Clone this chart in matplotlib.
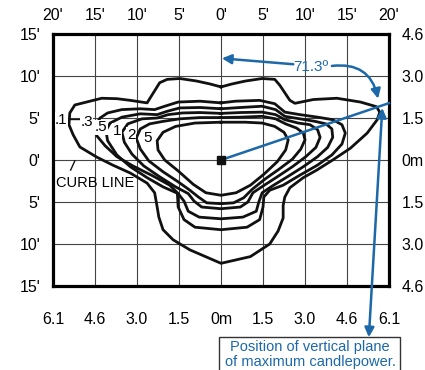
import numpy as np
import matplotlib.pyplot as plt
from matplotlib.patches import Rectangle

plt.rcParams['font.family'] = ['Liberation Sans', 'DejaVu Sans']

# axis ticks (feet) and the labels shown
ft_x_ticks = [-20, -15, -10, -5, 0, 5, 10, 15, 20]
ft_y_ticks = [-15, -10, -5, 0, 5, 10, 15]
top_labels = ["20'", "15'", "10'", "5'", "0'", "5'", "10'", "15'", "20'"]
left_labels = ["15'", "10'", "5'", "0'", "5'", "10'", "15'"]
bottom_labels = ['6.1', '4.6', '3.0', '1.5', '0m', '1.5', '3.0', '4.6', '6.1']
right_labels = ['4.6', '3.0', '1.5', '0m', '1.5', '3.0', '4.6']

# isofootcandle lines (feet)
c01_x = [0, -1.3, -2.9, -4.9, -6.4, -7.3, -8.8, -10.8, -12.4, -14.2, -16.0, -17.4, -18.0, -18.1,
         -17.6, -16.8, -14.8, -12.9, -10.8, -8.8, -7.9, -7.6, -7.4, -6.9, -5.7, -3.7, 0, 3.5,
         5.8, 6.8, 7.4, 7.4, 7.6, 8.2, 9.8, 11.4, 13.3, 15.4, 17.4, 18.6, 18.9, 18.5, 16.6,
         13.8, 11.0, 8.8, 8.2, 7.0, 6.4, 4.9, 2.9, 1.3]
c01_y = [8.7, 9.05, 9.4, 9.7, 9.6, 9.2, 6.8, 7.1, 7.3, 7.35, 6.9, 6.55, 5.6, 4.2,
         3.0, 1.55, 0.35, -0.6, -1.55, -2.75, -3.9, -5.6, -6.8, -8.3, -9.5, -10.7, -12.3, -11.5,
         -10.0, -8.45, -6.9, -5.4, -4.4, -3.3, -2.1, -1.2, 0, 1.4, 3.2, 4.8, 5.7, 6.35, 6.9,
         7.35, 7.2, 6.75, 7.1, 8.9, 9.6, 9.7, 9.4, 9.05]

c03_x = [0, 1.7, 4.6, 6.4, 7.6, 9.4, 11.5, 13.3, 14.4, 14.8, 14.4, 13.2, 11.5, 9.4, 7.4, 5.8,
         5.1, 5.0, 4.6, 3.1, 0, -3.1, -4.4, -5.1, -5.2, -6.1, -8.1, -10.5, -12.4, -13.8, -14.8,
         -14.9, -14.4, -13.5, -11.8, -9.6, -7.9, -6.7, -5.1, -2.5]
c03_y = [6.8, 7.0, 7.1, 6.7, 5.7, 5.4, 5.1, 4.8, 4.2, 3.2, 1.9, 0.6, -0.6, -1.8, -3.0, -3.6,
         -4.4, -5.6, -7.1, -8.0, -8.3, -8.0, -7.1, -5.6, -3.9, -3.0, -1.9, -0.7, 0.4, 1.7, 2.9,
         4.2, 5.0, 5.6, 6.0, 6.1, 6.0, 6.4, 6.9, 7.0]

c05_x = [0, 2.3, 4.9, 6.5, 7.6, 9.4, 11.2, 12.5, 13.2, 13.3, 12.7, 11.5, 9.8, 7.9, 6.1, 4.9,
         4.5, 4.2, 2.6, 0, -2.6, -3.9, -4.4, -5.1, -6.9, -8.8, -10.8, -12.4, -13.5, -13.7,
         -13.2, -11.8, -9.6, -7.6, -6.4, -4.9, -2.5]
c05_y = [6.1, 6.25, 6.4, 6.0, 5.2, 4.9, 4.6, 4.3, 3.7, 2.7, 1.5, 0.4, -0.8, -2.0, -3.1, -3.9,
         -5.0, -6.1, -6.8, -7.0, -6.8, -6.1, -4.9, -4.0, -3.2, -2.1, -0.8, 0.6, 2.3, 3.5,
         4.4, 5.1, 5.5, 5.4, 5.8, 6.2, 6.25]

c1_x = [0, 2.3, 4.9, 6.5, 7.6, 9.2, 10.6, 11.5, 11.8, 11.3, 10.1, 8.5, 6.7, 5.0, 3.8, 3.2,
        2.3, 0, -2.3, -3.2, -3.9, -5.4, -7.3, -9.2, -10.6, -11.5, -11.8, -11.1, -9.4, -7.6,
        -6.3, -4.6, -2.5]
c1_y = [5.55, 5.65, 5.7, 5.4, 4.8, 4.4, 4.2, 3.6, 2.7, 1.5, 0.4, -0.8, -2.0, -3.1, -3.9, -5.0,
        -5.6, -5.8, -5.6, -4.9, -4.0, -3.2, -2.0, -0.7, 0.7, 2.1, 3.3, 4.3, 4.9, 5.0,
        5.4, 5.6, 5.65]

c2_x = [0, 2.3, 4.9, 6.5, 7.7, 9.0, 9.8, 10.0, 9.5, 8.5, 6.9, 5.2, 3.7, 2.7, 1.5, 0, -1.7,
        -2.7, -3.7, -5.1, -6.9, -8.6, -9.6, -10.1, -9.6, -8.5, -6.9, -4.9, -2.5]
c2_y = [5.05, 5.1, 5.2, 4.9, 4.3, 3.8, 3.2, 2.4, 1.3, 0.1, -1.1, -2.3, -3.5, -4.5, -5.1, -5.2, -5.1,
        -4.4, -3.6, -2.6, -1.4, -0.1, 1.3, 2.6, 3.7, 4.3, 4.6, 4.9, 5.05]

c5_x = [0, 2.9, 4.9, 6.4, 7.5, 8.0, 7.7, 6.7, 5.1, 3.5, 1.8, 0, -1.8, -3.3, -5.1, -6.7, -7.5,
        -7.6, -6.9, -5.4, -3.1]
c5_y = [4.5, 4.5, 4.4, 4.0, 3.3, 2.4, 1.2, -0.2, -1.7, -3.0, -3.9, -4.2, -3.9, -2.9, -1.3, 0.0, 1.2,
        2.3, 3.3, 4.0, 4.4]

level_names = ['.1', '.3', '.5', '1', '2', '5']
level_label_x = [-19.0, -16.0, -14.3, -12.4, -10.7, -8.7]
level_label_y = [4.8, 4.5, 3.9, 3.5, 3.0, 2.6]

angle = 71.3  # degrees from nadir to plane of max candlepower
blue = '#1c68a8'

fig = plt.figure(figsize=(4.25, 3.7), dpi=100)
ax = fig.add_axes([53 / 425, 1 - 286 / 370, 336 / 425, 252 / 370])
ax.set_xlim(-20, 20)
ax.set_ylim(-15, 15)

ax.set_xticks(ft_x_ticks)
ax.set_xticklabels(bottom_labels)
ax.set_yticks(ft_y_ticks)
ax.set_yticklabels(left_labels[::-1])
ax.grid(True, color='#444444', lw=0.8)
ax.set_axisbelow(True)
for s in ax.spines.values():
    s.set_linewidth(2.3)
ax.tick_params(axis='x', length=0, pad=19, labelsize=11.5)
ax.tick_params(axis='y', length=0, pad=9, labelsize=11.5)

top = ax.secondary_xaxis('top')
top.set_xticks(ft_x_ticks)
top.set_xticklabels(top_labels)
top.tick_params(length=0, pad=8, labelsize=11.5)
right = ax.secondary_yaxis('right')
right.set_yticks(ft_y_ticks)
right.set_yticklabels(right_labels[::-1])
right.tick_params(length=0, pad=9, labelsize=11.5)

for cx, cy in [(c01_x, c01_y), (c03_x, c03_y), (c05_x, c05_y), (c1_x, c1_y), (c2_x, c2_y), (c5_x, c5_y)]:
    ax.plot(cx + cx[:1], cy + cy[:1], color='#111111', lw=2.0, solid_joinstyle='round')

for name, lx, ly in zip(level_names, level_label_x, level_label_y):
    ax.text(lx, ly, name, fontsize=11, ha='center', va='center',
            bbox=dict(facecolor='white', edgecolor='none', pad=0.3))
ax.plot([-18.2, -16.8], [4.85, 4.85], color='#111111', lw=1)
ax.text(-19.6, -2.7, 'CURB LINE', fontsize=10.5, ha='left', va='center')
ax.plot([-17.9, -17.4], [-1.2, -0.1], color='#111111', lw=1)

# luminaire
ax.plot(0, 0, 's', color='#111111', ms=6, zorder=5)

# plane of max candlepower
ax.plot([0, 20], [0, 20 / np.tan(np.radians(angle))], color=blue, lw=1.8, clip_on=False, zorder=4)
ax.annotate('', xy=(0.1, 12.1), xytext=(8.6, 11.4), annotation_clip=False,
            arrowprops=dict(arrowstyle='-|>', color=blue, lw=1.8, mutation_scale=14, shrinkA=0, shrinkB=0))
ax.text(10.7, 11.1, '71.3º', color=blue, fontsize=11, ha='center', va='center')
ax.annotate('', xy=(18.7, 7.3), xytext=(13.2, 11.2), annotation_clip=False,
            arrowprops=dict(arrowstyle='-|>', color=blue, lw=1.8, mutation_scale=14,
                            connectionstyle='arc3,rad=-0.45', shrinkA=0, shrinkB=0))
ax.annotate('', xy=(19.2, 6.2), xytext=(17.6, -21.1), annotation_clip=False,
            arrowprops=dict(arrowstyle='<|-|>', color=blue, lw=1.8, mutation_scale=14, shrinkA=0, shrinkB=0))

ax.add_patch(Rectangle((-0.25, -25.8), 21.55, 4.72, facecolor='white', edgecolor='#333333',
                       lw=1, clip_on=False, zorder=3))
ax.text(10.6, -22.3, 'Position of vertical plane', color=blue, fontsize=10.5, ha='center', va='center', zorder=4)
ax.text(10.6, -24.1, 'of maximum candlepower.', color=blue, fontsize=10.5, ha='center', va='center', zorder=4)

fig.savefig('out.png', dpi=100)
